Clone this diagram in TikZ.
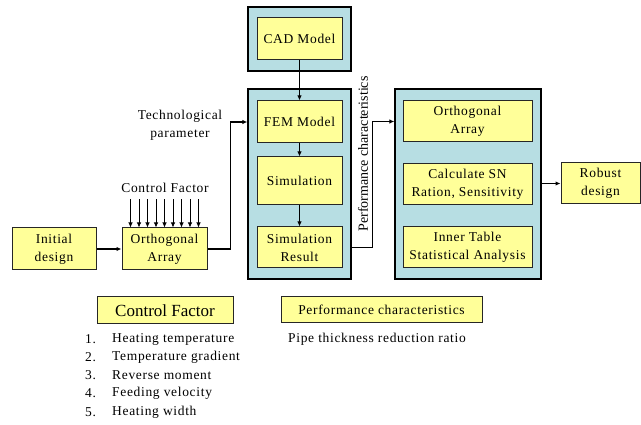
\documentclass[tikz,border=0pt]{standalone}
\usepackage{fontspec}
\setmainfont{Liberation Serif}[LetterSpace=5]
\usepackage{tikz}
\usetikzlibrary{positioning,arrows.meta,calc}
\definecolor{padyellow}{HTML}{FFFF99}
\definecolor{caseblue}{HTML}{B7DEE3}
\tikzset{
  stepbox/.style={draw=black!85, line width=1pt, fill=padyellow, align=center,
                  inner sep=0pt, font=\rmfamily\fontsize{13.5}{18}\selectfont,
                  minimum width=85pt, minimum height=42pt},
  casing/.style={draw=black, line width=1.3pt, fill=caseblue, inner sep=0pt},
  plain/.style={align=center, inner sep=0pt, font=\rmfamily\fontsize{13.5}{18}\selectfont},
  listtxt/.style={anchor=west, inner sep=0pt, font=\rmfamily\fontsize{13.5}{18}\selectfont},
  flowarr/.style={-{Latex[length=5pt,width=4.5pt]}, line width=1.1pt, draw=black},
}

\begin{document}
\begin{tikzpicture}[x=1pt,y=-1pt]
  \useasboundingbox (0,0) rectangle (641,425);
  % MIDDLE: CAD and FEM column
  \node[casing, minimum width=103pt, minimum height=64pt] (cadbox) at (299.5,39) {};
  \node[stepbox] (cad) at (299.5,38.5) {CAD Model};
  \node[casing, minimum width=103pt, minimum height=190pt] (simbox) at (299.5,184) {};
  \node[stepbox] (fem) at (299.5,122) {FEM Model};
  \node[stepbox, minimum height=48pt] (sim) at (299.5,181) {Simulation};
  \node[stepbox, minimum height=41pt] (simres) at (299.5,247.5) {Simulation\\Result};
  \draw[flowarr] (cad.south) -- (fem.north);
  \draw[flowarr] (fem.south) -- (sim.north);
  \draw[flowarr] (sim.south) -- (simres.north);

  % RIGHT: analysis column and result
  \node[casing, minimum width=146pt, minimum height=190pt] (anabox) at (468,184) {};
  \node[stepbox, minimum width=129pt, minimum height=41pt] (orthr) at (467.5,121.5) {Orthogonal\\Array};
  \node[stepbox, minimum width=129pt, minimum height=41pt] (calc) at (467.5,184.5) {Calculate SN\\Ration, Sensitivity};
  \node[stepbox, minimum width=129pt, minimum height=41pt] (inner) at (467.5,247.5) {Inner Table\\Statistical Analysis};
  \node[stepbox, minimum width=79pt, minimum height=41pt] (robust) at (600.5,183.5) {Robust\\design};
  \draw[flowarr] (anabox.east |- robust) -- (robust.west);
  \draw[flowarr] (simbox.east |- simres) -- ++(21,0) |- (anabox.west |- orthr);
  \node[plain, font=\rmfamily\fontsize{14}{16}\selectfont\addfontfeature{LetterSpace=0}, rotate=90] (perf) at (363,154) {Performance characteristics};

  % LEFT: initial design and control factors
  \node[stepbox, minimum width=84pt] (init) at (54,249) {Initial\\design};
  \node[stepbox] (orthl) at (164.5,249) {Orthogonal\\Array};
  \draw[flowarr] (init.east) -- (orthl.west);
  \draw[flowarr] (orthl.east) -- ++(23,0) |- (simbox.west |- fem);
  \node[plain] (tech) at (180,125) {Technological\\parameter};
  \node[plain] (cflabel) at (165,188) {Control Factor};
  \foreach \i in {0,...,8}
    \draw[flowarr, line width=0.8pt] ($(orthl.north west)+(9+8.5*\i,-28)$) -- ($(orthl.north west)+(9+8.5*\i,0)$);

  % BOTTOM: legend boxes and factor list
  \node[stepbox, minimum width=136pt, minimum height=27pt,
        font=\rmfamily\fontsize{17}{20}\selectfont\addfontfeature{LetterSpace=0}] (cfkey) at (165,310.5) {Control Factor};
  \node[stepbox, minimum width=201pt, minimum height=26pt] (pckey) at (381.5,310) {Performance characteristics};
  \foreach \t [count=\n] in {Heating temperature, Temperature gradient, Reverse moment, Feeding velocity, Heating width} {
    \node[listtxt] (num\n) at (85,320.8+18.2*\n) {\n.};
    \node[listtxt] (item\n) at (112,320.8+18.2*\n) {\t};
  }
  \node[listtxt] (pipe) at (288,339) {Pipe thickness reduction ratio};
\end{tikzpicture}
\end{document}
